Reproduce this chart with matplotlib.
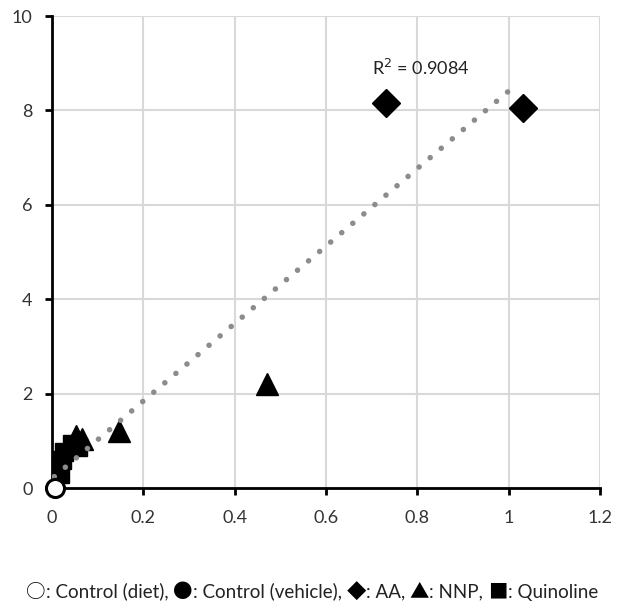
import numpy as np
import matplotlib
matplotlib.use('Agg')
import matplotlib.pyplot as plt
from matplotlib.offsetbox import TextArea, HPacker, AnchoredOffsetbox

plt.rcParams['font.family'] = ['Lato', 'DejaVu Sans']

# ── Data ───────────────────────────────────────────────
diet_x = [0.007]
diet_y = [0.0]
vehicle_x = [0.005]
vehicle_y = [0.05]
aa_x = [0.731, 1.031]
aa_y = [8.15, 8.05]
nnp_x = [0.053, 0.066, 0.147, 0.471]
nnp_y = [1.10, 1.04, 1.21, 2.20]
quin_x = [0.018, 0.022, 0.026, 0.044, 0.057]
quin_y = [0.30, 0.60, 0.76, 0.93, 0.87]

trend_slope = 8.21
trend_icept = 0.20
r2_label = 'R$^2$ = 0.9084'
legend_symbols = ['\u25cb', '\u25cf', '\u25c6', '\u25b2', '\u25a0']
legend_names = [': Control (diet), ', ': Control (vehicle), ', ': AA, ',
                ': NNP, ', ': Quinoline']

fig = plt.figure(figsize=(6.24, 6.11), dpi=100)
ax = fig.add_axes([0.0833, 0.2013, 0.8782, 0.7725])

# trendline
tx = np.array([0.005, 1.02])
ax.plot(tx, trend_slope * tx + trend_icept, color='#8c8c8c', lw=4,
        linestyle=(0, (0.01, 2.6)), dash_capstyle='round', zorder=4)

ax.plot(quin_x, quin_y, 's', color='black', ms=13, zorder=3)
ax.plot(nnp_x, nnp_y, '^', color='black', ms=16, zorder=3)
ax.plot(aa_x, aa_y, 'D', color='black', ms=14, zorder=3)
ax.plot(vehicle_x, vehicle_y, 'o', color='black', ms=12, zorder=3)
ax.plot(diet_x, diet_y, 'o', mfc='white', mec='black', mew=2.2, ms=13, zorder=5,
        clip_on=False)

ax.text(0.70, 8.75, r2_label, fontsize=13, color='#222222')

ax.set_xlim(0, 1.2)
ax.set_ylim(0, 10)
ax.set_xticks([0, 0.2, 0.4, 0.6, 0.8, 1.0, 1.2])
ax.set_xticklabels(['0', '0.2', '0.4', '0.6', '0.8', '1', '1.2'])
ax.set_yticks([0, 2, 4, 6, 8, 10])
ax.grid(True, color='#d9d9d9', lw=1.5)
ax.set_axisbelow(True)
for s in ['top', 'right']:
    ax.spines[s].set_visible(False)
for s in ['left', 'bottom']:
    ax.spines[s].set_linewidth(2)
ax.tick_params(direction='out', length=5, width=2, labelsize=13,
               colors='black', labelcolor='#333333')
ax.tick_params(axis='x', pad=11)
ax.tick_params(axis='y', pad=9)

# bottom caption with symbol key
pieces = []
for sym, name in zip(legend_symbols, legend_names):
    pieces.append(TextArea(sym, textprops=dict(fontsize=14, color='black',
                                               family=['Noto Sans CJK JP'])))
    pieces.append(TextArea(name, textprops=dict(fontsize=13.5, color='#222222',
                                                family=['Lato'])))
box = HPacker(children=pieces, align='baseline', pad=0, sep=0)
anch = AnchoredOffsetbox(loc='center', child=box, frameon=False,
                         bbox_to_anchor=(0.5, 0.031),
                         bbox_transform=fig.transFigure, borderpad=0)
fig.add_artist(anch)

fig.savefig('out.png', dpi=100)
